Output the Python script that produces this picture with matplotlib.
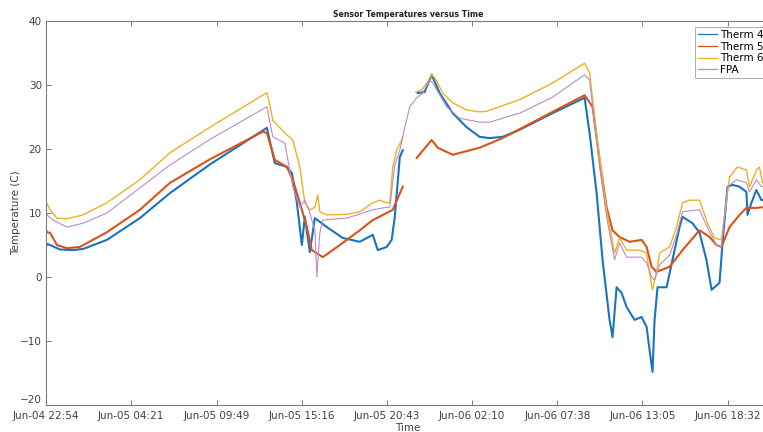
import numpy as np
import matplotlib
matplotlib.use("Agg")
import matplotlib.pyplot as plt
from matplotlib.lines import Line2D
from datetime import datetime

nan = np.nan

# ---- data (hours since Jun-04 22:54, temperature in C) ----
therm4_t = [0.0, 0.06, 0.9, 1.73, 2.4, 3.9, 6.01, 7.93, 10.5, 14.14, 14.65, 15.42, 15.74, 16.06, 16.38, 16.57,
            16.89, 17.21, 17.98, 19.0, 20.09, 20.92, 21.24, 21.81, 22.13, 22.33, 22.65, 22.84, 23.2,
            23.8, 24.24, 24.69, 25.2, 26.04, 26.93, 27.76, 28.4, 29.23, 30.32, 32.43, 34.48, 34.8,
            35.25, 35.63, 36.08, 36.27, 36.53, 36.85, 37.17, 37.68, 38.13, 38.45, 38.64, 38.83, 38.96,
            39.15, 39.73, 40.11, 40.56, 40.75, 41.39, 41.84, 42.28, 42.61, 43.12, 43.31, 43.63, 43.95,
            44.4, 44.84, 44.91, 45.16, 45.48, 45.8, 46.3]
therm4_v = [4.7, 5.2, 4.3, 4.2, 4.4, 5.8, 9.2, 13.1, 17.6, 23.3, 17.8, 17.2, 16.25, 11.6, 5.0, 9.4,
            3.9, 9.2, 7.8, 6.1, 5.5, 6.6, 4.2, 4.7, 5.8, 9.4, 18.75, 19.8, nan,
            28.75, 28.9, 31.6, 28.75, 25.6, 23.4, 21.9, 21.7, 21.9, 23.0, 25.6, 28.0, 22.5,
            13.1, 2.7, -6.7, -9.4, -1.6, -2.5, -4.7, -6.7, -6.25, -7.8, -11.4, -14.8, -6.7,
            -1.6, -1.6, 2.7, 7.8, 9.4, 8.4, 6.9, 2.7, -2.0, -0.9, 5.3, 14.1, 14.4,
            14.1, 13.3, 9.7, 11.6, 13.6, 12.0, 12.3]

therm5_t = [0.0, 0.06, 0.26, 0.7, 1.34, 2.17, 3.9, 6.01, 7.93, 10.5, 13.88, 14.14, 14.65, 15.42, 15.8, 16.25,
            16.7, 17.02, 17.72, 18.36, 19.26, 20.09, 20.92, 21.81, 22.2, 22.84, 23.3,
            23.73, 24.69, 25.08, 26.04, 27.76, 29.23, 32.43, 34.48, 34.99, 35.44, 35.89, 36.27,
            36.72, 37.36, 38.13, 38.45, 38.77, 39.09, 39.92, 40.75, 41.84, 42.48, 42.92, 43.24,
            43.76, 44.4, 44.84, 45.48, 45.87, 46.3]
therm5_v = [7.4, 7.0, 6.9, 5.0, 4.5, 4.7, 7.0, 10.5, 14.7, 18.4, 22.7, 22.5, 18.3, 17.2, 15.2, 11.6,
            7.8, 4.2, 3.1, 4.2, 5.8, 7.3, 8.9, 10.0, 10.5, 14.1, nan,
            18.6, 21.4, 20.2, 19.1, 20.2, 21.7, 25.8, 28.4, 26.6, 18.3, 10.9, 7.3,
            6.25, 5.5, 5.8, 4.7, 1.6, 0.8, 1.6, 4.2, 7.3, 6.25, 5.0, 4.7,
            7.8, 9.7, 10.8, 10.8, 10.9, 10.6]

therm6_t = [0.0, 0.06, 0.26, 0.7, 1.34, 2.37, 3.9, 6.01, 7.93, 10.5, 14.14, 14.33, 14.52, 15.29, 15.8, 16.25,
            16.57, 16.89, 17.21, 17.4, 17.53, 17.98, 19.26, 20.09, 20.92, 21.37, 21.81, 22.01, 22.2,
            22.45, 22.77, 22.84, 23.3,
            23.67, 24.05, 24.37, 24.69, 24.89, 25.4, 26.04, 26.93, 27.76, 28.21, 30.32, 32.43, 34.48,
            34.8, 35.32, 35.89, 36.4, 36.72, 37.17, 38.0, 38.45, 38.64, 38.83, 39.15, 39.28, 39.92,
            40.37, 40.75, 41.2, 41.84, 42.35, 42.8, 43.24, 43.76, 44.27, 44.84, 45.04, 45.48, 45.67,
            45.87, 46.3]
therm6_v = [11.25, 11.5, 10.5, 9.2, 9.1, 9.7, 11.6, 15.2, 19.4, 23.4, 28.8, 26.9, 24.5, 22.5, 21.4, 17.2,
            11.6, 10.5, 10.9, 12.8, 10.2, 9.7, 9.8, 10.2, 11.6, 12.0, 11.6, 11.6, 17.2,
            19.8, 21.4, 21.9, nan,
            28.9, 29.2, 30.3, 31.6, 31.1, 28.75, 27.2, 26.1, 25.8, 25.9, 27.7, 30.3, 33.4,
            31.9, 20.9, 10.5, 3.75, 6.1, 4.2, 4.2, 3.75, 0.6, -2.0, 1.6, 3.75, 4.7,
            7.8, 11.6, 12.0, 12.0, 8.4, 6.1, 5.8, 15.6, 17.2, 16.7, 14.1, 16.7, 17.2,
            14.7, 15.5]

fpa_t = [0.0, 0.06, 0.45, 1.34, 2.37, 3.9, 7.93, 10.5, 14.14, 14.52, 15.29, 15.8, 16.25, 16.57, 16.89,
         17.21, 17.34, 17.53, 17.72, 19.26, 20.92, 21.81, 22.01, 22.33, 22.65, 22.97, 23.29, 23.73,
         24.12, 24.56, 24.76, 25.65, 26.48, 27.76, 28.4, 30.32, 32.43, 34.48, 34.8, 35.44, 35.89,
         36.4, 36.72, 37.17, 38.13, 38.45, 38.77, 38.96, 39.28, 39.92, 40.37, 40.75, 41.84, 42.35,
         42.92, 43.24, 43.63, 44.21, 44.84, 45.04, 45.48, 45.8, 46.3]
fpa_v = [10.0, 9.7, 8.9, 7.8, 8.4, 10.0, 17.5, 21.5, 26.6, 21.9, 20.9, 14.1, 10.9, 12.0, 10.0,
         7.3, 0.0, 6.9, 8.9, 9.2, 10.5, 10.9, 10.9, 17.5, 19.8, 23.4, 26.6, 28.0,
         28.75, 30.8, 30.3, 26.6, 24.8, 24.2, 24.2, 25.6, 28.1, 31.6, 30.8, 17.2, 9.4,
         2.7, 5.3, 3.1, 3.1, 2.2, 0.0, -0.5, 1.9, 3.4, 6.6, 10.2, 10.5, 7.7,
         5.0, 4.7, 14.1, 15.2, 14.7, 13.3, 15.2, 14.1, 14.6]

series_names = ["Therm 4", "Therm 5", "Therm 6", "FPA"]
tick_labels = ["Jun-04 22:54", "Jun-05 04:21", "Jun-05 09:49", "Jun-05 15:16", "Jun-05 20:43",
               "Jun-06 02:10", "Jun-06 07:38", "Jun-06 13:05", "Jun-06 18:32"]
x_end_hours = 46.35
y_ticks = [-20, -10, 0, 10, 20, 30, 40]

# ---- figure ----
W, H = 763, 432
fig = plt.figure(figsize=(W / 100, H / 100), dpi=100)
ax = fig.add_axes([46 / W, 1 - 405 / H, 724 / W, 384 / H])

colors = ["#1a74bd", "#d95319", "#edb120", "#b98cc8"]
widths = [1.5, 1.5, 1.0, 0.8]
data = [(therm4_t, therm4_v), (therm5_t, therm5_v), (therm6_t, therm6_v), (fpa_t, fpa_v)]
for i in range(4):
    t, v = data[i]
    ax.plot(t, v, color=colors[i], lw=widths[i], label=series_names[i], zorder=2 + i * 0.1)

start = datetime.strptime("2000-" + tick_labels[0], "%Y-%b-%d %H:%M")
tick_pos = [(datetime.strptime("2000-" + s, "%Y-%b-%d %H:%M") - start).total_seconds() / 3600
            for s in tick_labels]
ax.set_xticks(tick_pos)
ax.set_xticklabels(tick_labels)
ax.set_yticks(y_ticks)
ax.set_xlim(0, x_end_hours)
ax.set_ylim(-20, 40)

axc = "#7a7a7a"
for s in ax.spines.values():
    s.set_color(axc)
    s.set_linewidth(0.8)
ax.tick_params(direction="in", length=3.5, width=0.7, color=axc, labelcolor="#404040",
               labelsize=7.5, top=True, right=True)
ax.tick_params(axis="x", pad=4)
ax.tick_params(axis="y", pad=3)
# lift the bottom y label a little, as in the reference
for lab in ax.get_yticklabels():
    if lab.get_text().replace("\u2212", "-") == "-20":
        lab.set_verticalalignment("bottom")

ax.set_xlabel("Time", fontsize=7.5, color="#404040", labelpad=2)
ax.set_ylabel("Temperature (C)", fontsize=7.5, color="#404040", labelpad=-1)
ax.set_title("Sensor Temperatures versus Time", fontsize=5.6, fontweight="bold", color="#222222", pad=3)

handles = [Line2D([], [], color=colors[i], lw=0.9) for i in range(4)]
leg = ax.legend(handles, series_names, loc="upper left", bbox_to_anchor=(695 / W, 1 - 27 / H),
                bbox_transform=fig.transFigure, fontsize=7.5, frameon=True, fancybox=False,
                borderaxespad=0, handlelength=1.8, handletextpad=0.3, labelspacing=0.15,
                borderpad=0.3)
leg.get_frame().set_edgecolor("#9a9a9a")
leg.get_frame().set_linewidth(0.7)

fig.savefig("out.png", dpi=100)
